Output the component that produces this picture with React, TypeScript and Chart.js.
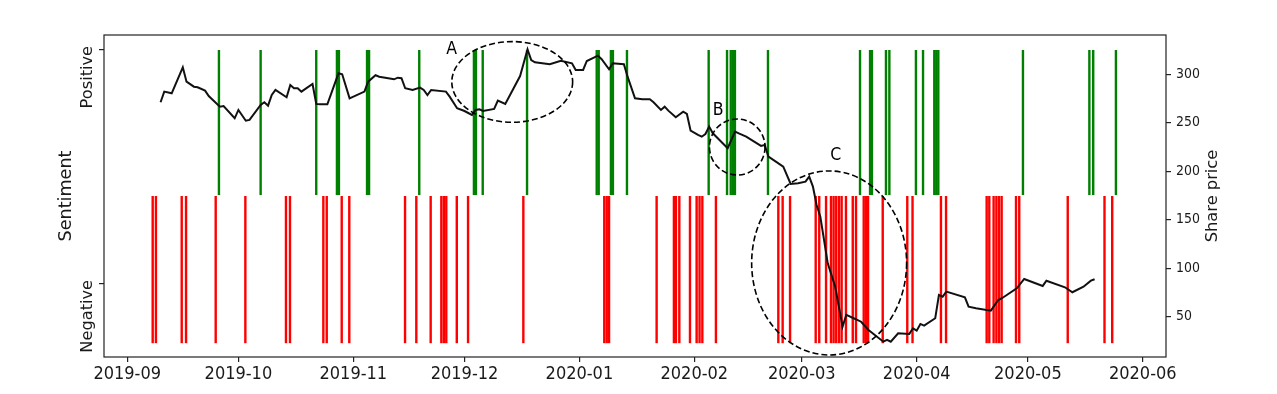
import React, { useEffect, useRef } from "react";
import { Chart, registerables } from "chart.js";

Chart.register(...registerables);

// ---------- data ----------
const monthTicks = [
  "2019-09-01", "2019-10-01", "2019-11-01", "2019-12-01", "2020-01-01",
  "2020-02-01", "2020-03-01", "2020-04-01", "2020-05-01", "2020-06-01",
];
const monthLabels = [
  "2019-09", "2019-10", "2019-11", "2019-12", "2020-01",
  "2020-02", "2020-03", "2020-04", "2020-05", "2020-06",
];

const priceDates = [
  "2019-09-10", "2019-09-11", "2019-09-13", "2019-09-16", "2019-09-17", "2019-09-19", "2019-09-20",
  "2019-09-22", "2019-09-23", "2019-09-26", "2019-09-27", "2019-09-30", "2019-10-01", "2019-10-03",
  "2019-10-04", "2019-10-07", "2019-10-08", "2019-10-09", "2019-10-10", "2019-10-11", "2019-10-14",
  "2019-10-15", "2019-10-16", "2019-10-17", "2019-10-18", "2019-10-21", "2019-10-22", "2019-10-23",
  "2019-10-25", "2019-10-28", "2019-10-29", "2019-10-31", "2019-11-04", "2019-11-05", "2019-11-07",
  "2019-11-08", "2019-11-12", "2019-11-13", "2019-11-14", "2019-11-15", "2019-11-17", "2019-11-19",
  "2019-11-20", "2019-11-21", "2019-11-22", "2019-11-26", "2019-11-27", "2019-11-29", "2019-12-01",
  "2019-12-03", "2019-12-04", "2019-12-05", "2019-12-06", "2019-12-09", "2019-12-10", "2019-12-12",
  "2019-12-16", "2019-12-18", "2019-12-19", "2019-12-20", "2019-12-24", "2019-12-27", "2019-12-30",
  "2019-12-31", "2020-01-02", "2020-01-03", "2020-01-06", "2020-01-07", "2020-01-09", "2020-01-10",
  "2020-01-13", "2020-01-14", "2020-01-16", "2020-01-18", "2020-01-20", "2020-01-21", "2020-01-23",
  "2020-01-24", "2020-01-25", "2020-01-27", "2020-01-29", "2020-01-30", "2020-01-31", "2020-02-02",
  "2020-02-03", "2020-02-04", "2020-02-05", "2020-02-06", "2020-02-10", "2020-02-12", "2020-02-13",
  "2020-02-15", "2020-02-19", "2020-02-20", "2020-02-21", "2020-02-23", "2020-02-25", "2020-02-27",
  "2020-02-29", "2020-03-02", "2020-03-03", "2020-03-04", "2020-03-05", "2020-03-06", "2020-03-08",
  "2020-03-10", "2020-03-12", "2020-03-13", "2020-03-15", "2020-03-17", "2020-03-19", "2020-03-23",
  "2020-03-24", "2020-03-25", "2020-03-27", "2020-03-30", "2020-03-31", "2020-04-01", "2020-04-02",
  "2020-04-03", "2020-04-06", "2020-04-07", "2020-04-08", "2020-04-09", "2020-04-14", "2020-04-15",
  "2020-04-17", "2020-04-21", "2020-04-23", "2020-04-24", "2020-04-28", "2020-04-30", "2020-05-05",
  "2020-05-06", "2020-05-11", "2020-05-13", "2020-05-16", "2020-05-18", "2020-05-19",
];
const priceValues = [
  271.1, 282.1, 280.4, 307.2, 292.4, 287.2, 286.6,
  283.1, 277.6, 266.6, 267.3, 254.6, 263.2, 252.1,
  252.9, 268.3, 271.1, 267.6, 278.6, 283.8, 276.3,
  289.0, 285.6, 285.6, 282.1, 290.0, 269.4, 269.1,
  269.1, 301.0, 300.0, 275.2, 282.1, 292.4, 299.0,
  297.5, 294.8, 296.5, 296.0, 285.6, 283.8, 286.2,
  283.8, 278.6, 283.8, 282.1, 276.9, 264.9, 262.1,
  258.0, 263.2, 263.9, 262.1, 264.2, 272.8, 269.4,
  298.2, 325.8, 314.7, 312.4, 310.3, 314.0, 311.3,
  304.4, 304.4, 313.7, 319.2, 315.5, 305.2, 311.3,
  310.3, 297.5, 275.2, 274.2, 274.2, 271.2, 263.2,
  266.6, 262.5, 255.7, 261.4, 259.1, 241.8, 237.4,
  235.6, 238.4, 246.0, 239.1, 223.7, 240.8, 239.1,
  235.6, 226.1, 227.1, 215.0, 209.9, 204.7, 186.9,
  187.6, 189.2, 194.4, 184.1, 165.2, 153.1, 105.0,
  81.0, 39.7, 51.8, 48.4, 44.8, 36.3, 24.2,
  26.0, 24.2, 32.9, 32.2, 38.0, 35.6, 42.5,
  40.7, 48.4, 72.4, 70.6, 75.8, 70.0, 60.3,
  58.7, 56.2, 67.2, 69.0, 79.3, 88.9, 81.7,
  87.1, 80.3, 75.2, 80.9, 87.1, 88.6,
];

// news timestamps (date + hour) tagged positive / negative
const positiveNews = [
  "2019-09-25T18", "2019-10-07T00", "2019-10-22T00", "2019-10-27T14", "2019-10-28T03",
  "2019-11-04T17", "2019-11-05T06", "2019-11-18T19", "2019-12-03T13", "2019-12-04T02",
  "2019-12-05T22", "2019-12-17T21", "2020-01-05T16", "2020-01-06T05", "2020-01-09T12",
  "2020-01-10T01", "2020-01-13T20", "2020-02-04T21", "2020-02-09T20", "2020-02-10T20",
  "2020-02-11T10", "2020-02-11T23", "2020-02-20T21", "2020-03-16T17", "2020-03-19T10",
  "2020-03-19T22", "2020-03-23T17", "2020-03-24T15", "2020-03-31T19", "2020-04-02T17",
  "2020-04-05T18", "2020-04-06T07", "2020-04-06T20", "2020-04-29T16", "2020-05-17T14",
  "2020-05-18T15", "2020-05-24T18",
];
const negativeNews = [
  "2019-09-07T21", "2019-09-08T18", "2019-09-15T17", "2019-09-16T21", "2019-09-24T21",
  "2019-10-02T21", "2019-10-13T20", "2019-10-14T22", "2019-10-23T22", "2019-10-24T20",
  "2019-10-28T21", "2019-10-30T22", "2019-11-14T23", "2019-11-18T00", "2019-11-21T21",
  "2019-11-24T18", "2019-11-25T10", "2019-11-26T02", "2019-11-28T22", "2019-12-01T23",
  "2019-12-16T21", "2020-01-07T17", "2020-01-08T09", "2020-01-09T00", "2020-01-21T20",
  "2020-01-26T12", "2020-01-27T01", "2020-01-27T23", "2020-01-30T20", "2020-02-01T15",
  "2020-02-02T10", "2020-02-03T04", "2020-02-06T20", "2020-02-23T16", "2020-02-24T20",
  "2020-02-26T20", "2020-03-04T18", "2020-03-05T17", "2020-03-07T13", "2020-03-08T21",
  "2020-03-09T14", "2020-03-10T07", "2020-03-11T01", "2020-03-11T18", "2020-03-12T22",
  "2020-03-14T18", "2020-03-15T15", "2020-03-17T17", "2020-03-18T08", "2020-03-18T21",
  "2020-03-22T20", "2020-03-29T11", "2020-03-30T21", "2020-04-07T13", "2020-04-08T22",
  "2020-04-19T21", "2020-04-20T14", "2020-04-21T18", "2020-04-22T12", "2020-04-23T05",
  "2020-04-23T22", "2020-04-27T19", "2020-04-28T16", "2020-05-11T18", "2020-05-21T16",
  "2020-05-23T18",
];

const sentimentTickValues = [0, 1];
const sentimentTickLabels = ["Negative", "Positive"];
const priceTicks = [50, 100, 150, 200, 250, 300];

// highlighted regions (centre date/price, half-widths in days / price units)
const regionLabels = ["A", "B", "C"];
const regionCentres = ["2019-12-13T21", "2020-02-12T14", "2020-03-08T09"];
const regionCentrePrices = [292.1, 225.0, 105.4];
const regionHalfDays = [16.3, 7.5, 20.9];
const regionHalfPrices = [41.6, 28.9, 94.9];
const regionLabelDates = ["2019-11-27T12", "2020-02-07T11", "2020-03-10T04"];
const regionLabelPrices = [325.6, 262.5, 215.9];

// ---------- helpers ----------
const BASE = Date.parse("2019-09-01T00:00:00Z");
const toDay = (s: string) => {
  const iso = s.length === 10 ? s + "T00:00:00Z" : s + ":00:00Z";
  return (Date.parse(iso) - BASE) / 86400000;
};

const X_MIN = -6.26;
const X_MAX = 280.26;
const POS_SPAN = [0.38, 1.0];
const NEG_SPAN = [-0.253, 0.376];

const FONT_C = "'DejaVu Sans Condensed', 'DejaVu Sans', sans-serif";
const FONT_R = "'DejaVu Sans', sans-serif";
const INK = "#1a1a1a";

const overlayPlugin = {
  id: "overlay",
  afterDatasetsDraw(chart: any) {
    const { ctx, chartArea: a, scales } = chart;
    const xs = scales.x;
    const yp = scales.yP;
    ctx.save();
    // dashed ellipses
    ctx.setLineDash([6, 3]);
    ctx.lineWidth = 1.6;
    ctx.strokeStyle = "#000";
    for (let i = 0; i < regionLabels.length; i++) {
      const d = toDay(regionCentres[i]);
      const cx = xs.getPixelForValue(d);
      const cy = yp.getPixelForValue(regionCentrePrices[i]);
      const rx = Math.abs(xs.getPixelForValue(d + regionHalfDays[i]) - cx);
      const ry = Math.abs(yp.getPixelForValue(regionCentrePrices[i] + regionHalfPrices[i]) - cy);
      ctx.beginPath();
      ctx.ellipse(cx, cy, rx, ry, 0, 0, Math.PI * 2);
      ctx.stroke();
    }
    ctx.setLineDash([]);
    ctx.fillStyle = "#000";
    ctx.font = `17.5px ${FONT_C}`;
    ctx.textAlign = "center";
    ctx.textBaseline = "middle";
    for (let i = 0; i < regionLabels.length; i++) {
      ctx.fillText(
        regionLabels[i],
        xs.getPixelForValue(toDay(regionLabelDates[i])),
        yp.getPixelForValue(regionLabelPrices[i])
      );
    }
    // frame
    ctx.strokeStyle = "#222";
    ctx.lineWidth = 1.2;
    ctx.strokeRect(a.left, a.top, a.right - a.left, a.bottom - a.top);
    ctx.restore();
  },
  afterDraw(chart: any) {
    const { ctx, chartArea: a, scales } = chart;
    const ys = scales.yS;
    ctx.save();
    ctx.fillStyle = INK;
    // sentiment tick labels (rotated)
    ctx.font = `16.2px ${FONT_R}`;
    ctx.textAlign = "right";
    ctx.textBaseline = "alphabetic";
    sentimentTickValues.forEach((v, i) => {
      const y = ys.getPixelForValue(v);
      ctx.save();
      ctx.translate(91.5, y - 4);
      ctx.rotate(-Math.PI / 2);
      ctx.fillText(sentimentTickLabels[i], 0, 0);
      ctx.restore();
    });
    // axis titles
    const midY = (a.top + a.bottom) / 2;
    ctx.textAlign = "center";
    ctx.font = `17.6px ${FONT_R}`;
    ctx.save();
    ctx.translate(70.5, midY);
    ctx.rotate(-Math.PI / 2);
    ctx.fillText("Sentiment", 0, 0);
    ctx.restore();
    ctx.font = `16.3px ${FONT_R}`;
    ctx.save();
    ctx.translate(a.right + 51, midY);
    ctx.rotate(-Math.PI / 2);
    ctx.fillText("Share price", 0, 0);
    ctx.restore();
    ctx.restore();
  },
};

export default function App() {
  const canvasRef = useRef<HTMLCanvasElement | null>(null);

  useEffect(() => {
    if (!canvasRef.current) return;
    const tickGrid = {
      display: true,
      drawOnChartArea: false,
      drawTicks: true,
      tickLength: 5,
      tickColor: "#222",
      lineWidth: 1.2,
    };
    const chart = new Chart(canvasRef.current, {
      type: "bar",
      data: {
        datasets: [
          {
            type: "line",
            label: "Share price",
            data: priceDates.map((d, i) => ({ x: toDay(d), y: priceValues[i] })),
            xAxisID: "x",
            yAxisID: "yP",
            borderColor: "#111",
            borderWidth: 2,
            pointRadius: 0,
            tension: 0,
            order: 0,
          } as any,
          {
            type: "bar",
            label: "Positive",
            data: positiveNews.map((d) => ({ x: toDay(d), y: POS_SPAN })),
            xAxisID: "x",
            yAxisID: "yS",
            backgroundColor: "#008000",
            borderWidth: 0,
            barThickness: 2.4,
            grouped: false,
            inflateAmount: 0,
            order: 1,
          } as any,
          {
            type: "bar",
            label: "Negative",
            data: negativeNews.map((d) => ({ x: toDay(d), y: NEG_SPAN })),
            xAxisID: "x",
            yAxisID: "yS",
            backgroundColor: "#ff0000",
            borderWidth: 0,
            barThickness: 2.4,
            grouped: false,
            inflateAmount: 0,
            order: 2,
          } as any,
        ],
      },
      options: {
        animation: false,
        responsive: true,
        maintainAspectRatio: false,
        devicePixelRatio: 1,
        layout: { padding: { top: 35, left: 0, right: 0, bottom: 0 } },
        plugins: { legend: { display: false }, tooltip: { enabled: false } },
        scales: {
          x: {
            type: "linear",
            position: "bottom",
            min: X_MIN,
            max: X_MAX,
            offset: false,
            border: { display: false },
            grid: { ...tickGrid, offset: false },
            afterBuildTicks: (s: any) => {
              s.ticks = monthTicks.map((m) => ({ value: toDay(m) }));
            },
            afterFit: (s: any) => {
              s.height = 37;
            },
            ticks: {
              autoSkip: false,
              maxRotation: 0,
              minRotation: 0,
              padding: 2,
              color: INK,
              font: { family: FONT_C, size: 18 },
              callback: (_v: any, i: number) => monthLabels[i],
            },
          },
          yS: {
            type: "linear",
            position: "left",
            min: -0.312,
            max: 1.064,
            border: { display: false },
            grid: tickGrid,
            afterBuildTicks: (s: any) => {
              s.ticks = sentimentTickValues.map((v) => ({ value: v }));
            },
            afterFit: (s: any) => {
              s.width = 104;
            },
            ticks: { display: false },
          },
          yP: {
            type: "linear",
            position: "right",
            min: 8.4,
            max: 340.5,
            border: { display: false },
            grid: tickGrid,
            afterBuildTicks: (s: any) => {
              s.ticks = priceTicks.map((v) => ({ value: v }));
            },
            afterFit: (s: any) => {
              s.width = 111;
            },
            ticks: {
              padding: 5,
              color: INK,
              font: { family: FONT_C, size: 13.9 },
            },
          },
        },
      },
      plugins: [overlayPlugin],
    } as any);
    return () => chart.destroy();
  }, []);

  return (
    <div style={{ position: "fixed", left: 0, top: 0, width: 1277, height: 394, background: "#fff" }}>
      <canvas ref={canvasRef} />
    </div>
  );
}
